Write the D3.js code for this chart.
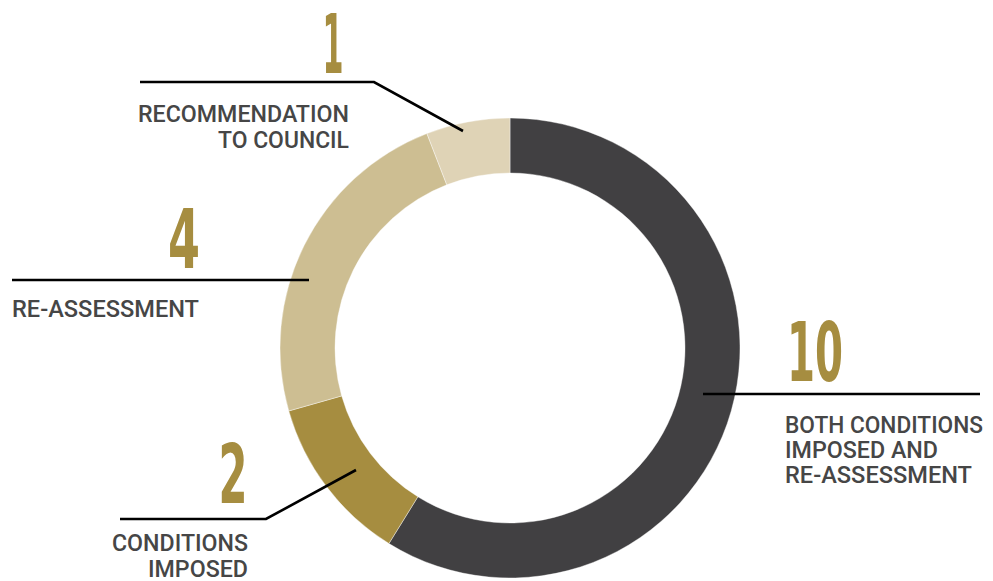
<!DOCTYPE html>
<html><head><meta charset="utf-8">
<script src="https://cdn.jsdelivr.net/npm/d3@7"></script>
<style>body{margin:0;background:#fff}svg{display:block}</style>
</head><body>
<svg id="chart" width="993" height="581"></svg>
<script>
const categories = ["BOTH CONDITIONS IMPOSED AND RE-ASSESSMENT", "CONDITIONS IMPOSED", "RE-ASSESSMENT", "RECOMMENDATION TO COUNCIL"];
const values = [10, 2, 4, 1];
const colors = ["#414042", "#a68d40", "#cdbe92", "#dfd3b6"];
const labelLines = [
  ["BOTH CONDITIONS", "IMPOSED AND", "RE-ASSESSMENT"],
  ["CONDITIONS", "IMPOSED"],
  ["RE-ASSESSMENT"],
  ["RECOMMENDATION", "TO COUNCIL"]
];

// layout (positions of callouts)
const layout = [
  {line:[[980,394],[703,394]], numX:787, numY:381, numAnchor:"start", numW:56, textX:785, anchor:"start", baseY:433, lh:25, widths:[198,153,187]},
  {line:[[120,519],[266,519],[356,470]], numX:233, numY:503, numAnchor:"middle", numW:29, textX:248, anchor:"end", baseY:551, lh:26, widths:[136,100]},
  {line:[[12,280],[309,280]], numX:184, numY:268, numAnchor:"middle", numW:32, textX:12, anchor:"start", baseY:317, lh:26, widths:[187]},
  {line:[[140,82],[374,82],[463,131]], numX:333, numY:73, numAnchor:"middle", numW:21, textX:349, anchor:"end", baseY:122, lh:26, widths:[211,131]}
];

const svg = d3.select("#chart");
const cx = 510, cy = 348, rOut = 230, rIn = 175;
const pie = d3.pie().sort(null).value(d => d)(values);
const arc = d3.arc().innerRadius(rIn).outerRadius(rOut);
const g = svg.append("g").attr("transform", `translate(${cx},${cy})`);
g.selectAll("path").data(pie).join("path")
  .attr("d", arc).attr("fill", (d,i) => colors[i])
  .attr("stroke", "#fff").attr("stroke-width", 0.4);

const lineGen = d3.line();
layout.forEach((L, i) => {
  svg.append("path").attr("d", lineGen(L.line)).attr("fill","none")
    .attr("stroke", "#000").attr("stroke-width", 2.6);
  svg.append("text").text(values[i])
    .attr("x", L.numX).attr("y", L.numY)
    .attr("text-anchor", L.numAnchor)
    .attr("font-family", "'Liberation Sans Narrow', 'DejaVu Sans Condensed', sans-serif")
    .attr("font-weight", 700).attr("font-size", 82)
    .attr("textLength", L.numW).attr("lengthAdjust", "spacingAndGlyphs")
    .attr("fill", "#a68d40");
  labelLines[i].forEach((t, j) => {
    svg.append("text").text(t)
      .attr("x", L.textX).attr("y", L.baseY + j*L.lh)
      .attr("text-anchor", L.anchor)
      .attr("font-family", "Roboto, 'DejaVu Sans', sans-serif")
      .attr("font-weight", 500).attr("font-size", 23)
      .attr("textLength", L.widths[j]).attr("lengthAdjust", "spacingAndGlyphs")
      .attr("fill", "#464646");
  });
});
</script>
</body></html>
